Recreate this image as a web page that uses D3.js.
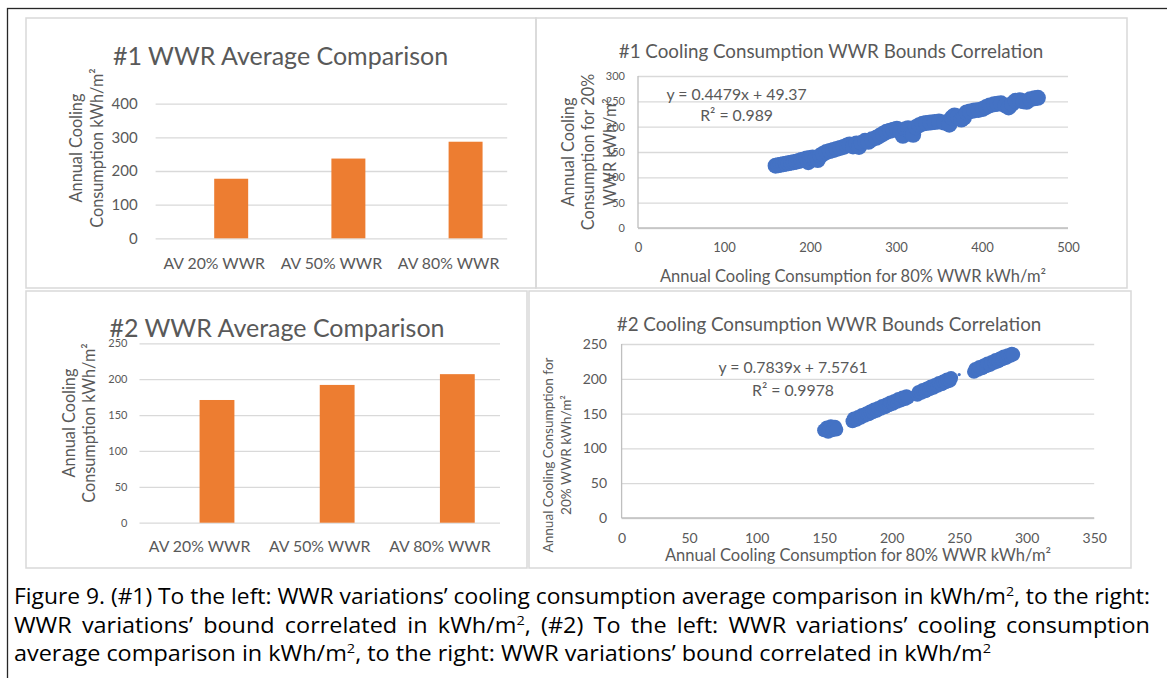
<!DOCTYPE html>
<html>
<head>
<meta charset="utf-8">
<script src="https://cdn.jsdelivr.net/npm/d3@7"></script>
<style>
  body { margin: 0; background: #fff; }
  #fig { position: relative; width: 1167px; height: 678px; overflow: hidden; }
  svg text { font-family: Lato, "Open Sans", sans-serif; fill: #595959; }
  .caption { position: absolute; left: 14px; font-family: "Open Sans", Lato, sans-serif;
             font-size: 21px; color: #000; line-height: 28.5px; }
  .caption .line { white-space: nowrap; display: inline-block; transform-origin: 0 0; }
  .caption sup { font-size: 0.62em; line-height: 0; }
</style>
</head>
<body>
<div id="fig"></div>
<script>
// ---- data ----
const barCats = ["AV 20% WWR", "AV 50% WWR", "AV 80% WWR"];
const avg1 = [177, 237, 287];
const avg2 = [171, 192, 207];
const avg1Ticks = [0, 100, 200, 300, 400];
const avg2Ticks = [0, 50, 100, 150, 200, 250];

// #1 bounds: [80% WWR, 20% WWR]
const bounds1 = [
  [160,123],[163,124],[166,125],[169,126],[172,127],[175,128],[178,129],[181,130],[184,131],[187,132],
  [190,134],[193,135],[196,137],[198,130],[200,138],[203,139],[206,136],[209,134],[212,143],[215,146],
  [219,150],[223,152],[227,154],[231,156],[235,158],[239,160],[243,163],[246,165],[250,161],[254,167],
  [257,160],[260,168],[264,172],[268,170],[272,175],[277,178],[281,182],[285,186],[289,190],[293,192],
  [297,194],[301,196],[305,190],[308,182],[311,195],[314,197],[318,186],[320,184],[323,199],[327,203],
  [331,206],[335,207],[340,208],[345,209],[350,210],[356,208],[362,204],[365,218],[368,222],[372,220],
  [376,214],[379,218],[382,228],[386,230],[391,232],[396,233],[401,235],[405,239],[409,242],[414,244],
  [418,245],[422,246],[427,242],[431,238],[435,245],[439,251],[444,252],[448,250],[452,249],[456,254],
  [461,256],[465,257]
];
const bounds1XTicks = [0, 100, 200, 300, 400, 500];
const bounds1YTicks = [0, 50, 100, 150, 200, 250, 300];
const fit1 = ["y = 0.4479x + 49.37", "R² = 0.989"];

// #2 bounds
const bounds2 = [
  [150,126],[152,130],[153,124],[154,128],[155,132],[156,126],[157,129],[158,131],[159,127],
  [171,139],[172,143],[174,141],[175,145],[177,144],[178,148],[180,147],[181,150],[183,149],[184,153],
  [186,152],[187,156],[189,154],[190,158],[192,157],[193,161],[195,159],[196,163],[198,162],[199,166],
  [201,164],[202,168],[204,167],[205,171],[207,169],[208,173],[210,171],[211,175],[212,173],
  [219,177],[220,181],[222,180],[223,184],[225,182],[226,186],[228,185],[229,189],[231,187],[232,191],
  [234,190],[235,194],[237,192],[238,196],[240,195],[241,199],[243,197],[244,201],
  [261,210],[262,214],[264,213],[265,217],[267,215],[268,219],[270,218],[271,222],[273,220],[274,224],
  [276,223],[277,227],[279,225],[280,229],[282,228],[283,232],[285,230],[286,234],[288,233],[289,236],
  [290,235]
];
const bounds2Stray = [[250,206]];
const bounds2XTicks = [0, 50, 100, 150, 200, 250, 300, 350];
const bounds2YTicks = [0, 50, 100, 150, 200, 250];
const fit2 = ["y = 0.7839x + 7.5761", "R² = 0.9978"];

const titles = ["#1 WWR Average Comparison", "#1 Cooling Consumption WWR Bounds Correlation",
                "#2 WWR Average Comparison", "#2 Cooling Consumption WWR Bounds Correlation"];
const xTitle = "Annual Cooling Consumption for 80% WWR kWh/m²";
const captionLines = [
  "Figure 9. (#1) To the left: WWR variations’ cooling consumption average comparison in kWh/m², to the right:",
  "WWR variations’ bound correlated in kWh/m², (#2) To the left: WWR variations’ cooling consumption",
  "average comparison in kWh/m², to the right: WWR variations’ bound correlated in kWh/m²"
];

const orange = "#ED7D31", blue = "#4472C4", grid = "#D9D9D9";

const svg = d3.select('#fig').append('svg').attr('width', 1167).attr('height', 678);

// outer frame and panel frames
svg.append('rect').attr('x', 7.5).attr('y', 8.5).attr('width', 1200).attr('height', 700)
  .attr('fill', 'none').attr('stroke', '#262626').attr('stroke-width', 1.3);
[[26,18,510,270],[536,18,591,270],[26,291,501,277],[529,291,602,277]].forEach(p => {
  svg.append('rect').attr('x', p[0]).attr('y', p[1]).attr('width', p[2]).attr('height', p[3])
    .attr('fill', 'none').attr('stroke', grid).attr('stroke-width', 1.5);
});

function yTitle(g, lines, xs, cy, fs) {
  lines.forEach((t, i) => {
    g.append('text').attr('transform', `translate(${xs[i]},${cy}) rotate(-90)`)
      .attr('text-anchor', 'middle').attr('dy', '0.35em').attr('font-size', fs).text(t);
  });
}

function centered(g, t, x, y, fs) {
  g.append('text').attr('x', x).attr('y', y).attr('dy', '0.35em')
    .attr('text-anchor', 'middle').attr('font-size', fs).text(t);
}

function barChart(c) {
  const g = svg.append('g');
  const x = d3.scaleBand().domain(barCats).range([c.left, c.right]);
  // two slots per category, the first one is empty like the source sheet
  const xs = d3.scaleBand().domain(['blank', 'avg']).range([0, x.bandwidth()]).paddingOuter(0.725);
  const y = d3.scaleLinear().domain([0, c.yMax]).range([c.bottom, c.top]);

  const ya = g.append('g').attr('transform', `translate(${c.left},0)`)
    .call(d3.axisLeft(y).tickValues(c.ticks).tickSize(-(c.right - c.left)).tickPadding(c.tickPad));
  ya.select('.domain').remove();
  ya.selectAll('line').attr('stroke', grid).attr('stroke-width', 1.3);
  ya.selectAll('text').attr('font-size', c.tickFs);

  g.selectAll('rect.bar').data(c.values).join('rect').attr('class', 'bar')
    .attr('x', (d, i) => x(barCats[i]) + xs('avg'))
    .attr('width', xs.bandwidth())
    .attr('y', d => y(d)).attr('height', d => y(0) - y(d))
    .attr('fill', orange);

  barCats.forEach(cat => centered(g, cat, x(cat) + x.bandwidth() / 2, c.catY, c.catFs));
  centered(g, c.title, c.titleX, c.titleY, c.titleFs);
  yTitle(g, ["Annual Cooling", "Consumption kWh/m²"], c.yTitleX, c.yTitleY, c.yTitleFs);
}

function scatterChart(c) {
  const g = svg.append('g');
  const x = d3.scaleLinear().domain([0, c.xMax]).range([c.left, c.right]);
  const y = d3.scaleLinear().domain([0, c.yMax]).range([c.bottom, c.top]);

  const ya = g.append('g').attr('transform', `translate(${c.left},0)`)
    .call(d3.axisLeft(y).tickValues(c.yTicks).tickSize(-(c.right - c.left)).tickPadding(c.yPad));
  ya.select('.domain').remove();
  ya.selectAll('line').attr('stroke', grid).attr('stroke-width', 1.3);
  ya.selectAll('text').attr('font-size', c.yFs);

  const xa = g.append('g').attr('transform', `translate(0,${c.bottom})`)
    .call(d3.axisBottom(x).tickValues(c.xTicks).tickSize(0).tickPadding(c.xPad));
  xa.select('.domain').remove();
  xa.selectAll('text').attr('font-size', c.xFs);

  g.append('line').attr('x1', c.left).attr('x2', c.left).attr('y1', c.top).attr('y2', c.bottom)
    .attr('stroke', '#BFBFBF').attr('stroke-width', 1.3);
  g.append('line').attr('x1', c.left).attr('x2', c.right).attr('y1', c.bottom).attr('y2', c.bottom)
    .attr('stroke', '#BFBFBF').attr('stroke-width', 1.3);

  g.selectAll('circle.pt').data(c.points).join('circle').attr('class', 'pt')
    .attr('cx', d => x(d[0])).attr('cy', d => y(d[1])).attr('r', c.r).attr('fill', blue);
  g.selectAll('circle.stray').data(c.stray || []).join('circle').attr('class', 'stray')
    .attr('cx', d => x(d[0])).attr('cy', d => y(d[1])).attr('r', 1.6).attr('fill', blue);

  centered(g, c.fit[0], c.fitX, c.fitY[0], c.fitFs);
  centered(g, c.fit[1], c.fitX, c.fitY[1], c.fitFs);
  centered(g, c.title, c.titleX, c.titleY, c.titleFs);
  centered(g, xTitle, c.xTitleX, c.xTitleY, c.xTitleFs);
  yTitle(g, c.yTitle, c.yTitleX, c.yTitleY, c.yTitleFs);
}

barChart({ values: avg1, ticks: avg1Ticks, yMax: 400, left: 155.6, right: 507.2, bottom: 238.3, top: 103.7,
  tickPad: 18, tickFs: 15, catY: 263, catFs: 15.8, title: titles[0], titleX: 280.6, titleY: 56, titleFs: 25,
  yTitleX: [76.4, 97.5], yTitleY: 148, yTitleFs: 16.3 });

scatterChart({ points: bounds1, r: 8, xMax: 500, yMax: 300, left: 638, right: 1068, bottom: 228, top: 76,
  xTicks: bounds1XTicks, yTicks: bounds1YTicks, yPad: 13, yFs: 11, xPad: 15, xFs: 13,
  fit: fit1, fitX: 736.6, fitY: [94, 115], fitFs: 15.8,
  title: titles[1], titleX: 831, titleY: 51.7, titleFs: 18.8,
  xTitleX: 853, xTitleY: 276, xTitleFs: 16.5,
  yTitle: ["Annual Cooling", "Consumption for 20%", "WWR kWh/m²"], yTitleX: [568, 588, 610], yTitleY: 152, yTitleFs: 16.3 });

barChart({ values: avg2, ticks: avg2Ticks, yMax: 250, left: 139.5, right: 500, bottom: 522.7, top: 343.3,
  tickPad: 12, tickFs: 11, catY: 546.7, catFs: 15.8, title: titles[2], titleX: 277, titleY: 328, titleFs: 25,
  yTitleX: [69, 89], yTitleY: 423, yTitleFs: 16.3 });

scatterChart({ points: bounds2, r: 7, stray: bounds2Stray, xMax: 350, yMax: 250, left: 621.6, right: 1094.2, bottom: 518, top: 344,
  xTicks: bounds2XTicks, yTicks: bounds2YTicks, yPad: 14.6, yFs: 14, xPad: 15, xFs: 14,
  fit: fit2, fitX: 793, fitY: [367.7, 390.7], fitFs: 15.8,
  title: titles[3], titleX: 829, titleY: 324, titleFs: 18.8,
  xTitleX: 858, xTitleY: 555, xTitleFs: 16.5,
  yTitle: ["Annual Cooling Consumption for", "20% WWR kWh/m²"], yTitleX: [548.3, 566], yTitleY: 455, yTitleFs: 13.6 });

// caption: lines 1-2 justified to the full width, line 3 left aligned
const capWidths = [1136, 1136, 977];
const cap = d3.select('#fig').append('div').attr('class', 'caption').style('top', '582px');
const lineSel = cap.selectAll('div.line').data(captionLines).join('div').attr('class', 'line')
  .html(t => t.replace(/²/g, '<sup>2</sup>'));
const nodes = lineSel.nodes();
const nat = nodes.map(n => n.getBoundingClientRect().width);
const s = capWidths[2] / nat[2];
nodes.forEach((n, i) => {
  const avail = capWidths[i] / s;
  if (i < 2 && nat[i] <= avail) {
    n.style.display = 'block';
    n.style.whiteSpace = 'normal';
    n.style.width = avail + 'px';
    n.style.textAlign = 'justify';
    n.style.textAlignLast = 'justify';
    n.style.transform = `scaleX(${s})`;
  } else {
    n.style.display = 'block';
    n.style.width = nat[i] + 'px';
    n.style.transform = `scaleX(${capWidths[i] / nat[i]})`;
  }
});
</script>
</body>
</html>
